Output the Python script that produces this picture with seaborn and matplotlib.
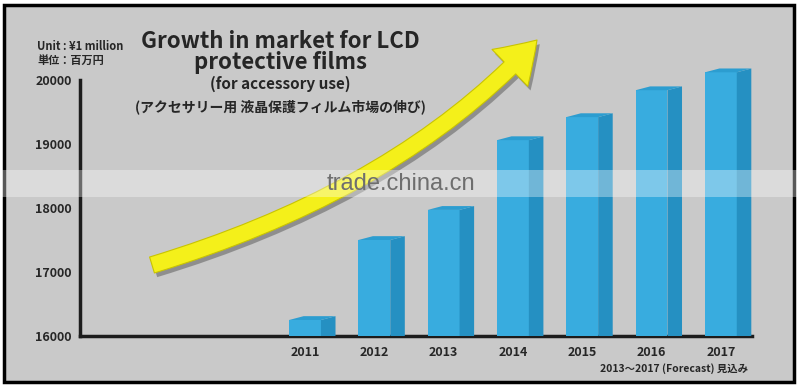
# Growth in market for LCD protective films (accessory use)
import matplotlib
matplotlib.use("Agg")

import pandas as pd
import matplotlib.pyplot as plt
import matplotlib.patheffects as pe
from matplotlib.patches import FancyArrowPatch, Rectangle, Polygon
from matplotlib.path import Path
import seaborn as sns

# Data (unit: 1 million yen)
years = ['2011', '2012', '2013', '2014', '2015', '2016', '2017']
market = [16250, 17500, 17970, 19060, 19420, 19840, 20120]
y_ticks = [16000, 17000, 18000, 19000, 20000]

sns.set_style("white")
plt.rcParams['font.family'] = ['Noto Sans CJK JP', 'DejaVu Sans']

# Colours
bg_color = '#c9c9c9'
front_color = '#38acdf'
side_color = '#2590c2'
top_color = '#2c9dd0'
axis_color = '#1c1c1c'

W, H = 800, 386

def fx(x):
    return x / W

def fy(y):
    return 1 - y / H

fig = plt.figure(figsize=(8, 3.86), dpi=100)
fig.patch.set_facecolor('white')

# gray panel with black frame
fig.patches.append(Rectangle((fx(4), fy(382)), 790 / W, 377 / H, transform=fig.transFigure,
                             facecolor=bg_color, edgecolor='black', linewidth=2.5, zorder=-1))

ax = fig.add_axes([fx(80), fy(336), 680 / W, 275.2 / H])
ax.patch.set_alpha(0)

df = pd.DataFrame({'year': years, 'value': market})
sns.barplot(data=df, x='year', y='value', color=front_color, width=0.46,
            saturation=1, edgecolor='none', linewidth=0, ax=ax, zorder=3)

# 3D side and top faces
half = 0.23
depth = 0.21
rise = 60
for i, v in enumerate(market):
    xr = i + half
    ax.add_patch(Polygon([(xr, 15900), (xr + depth, 15900), (xr + depth, v + rise), (xr, v)],
                         closed=True, facecolor=side_color, edgecolor='none', zorder=3))
    ax.add_patch(Polygon([(i - half, v), (xr, v), (xr + depth, v + rise), (i - half + depth, v + rise)],
                         closed=True, facecolor=top_color, edgecolor='none', zorder=3))

x_left = -3.247
ax.set_xlim(x_left, x_left + 680 / 69.3)
ax.set_ylim(16000, 20300)
ax.set_yticks(y_ticks)
ax.set_xlabel('')
ax.set_ylabel('')

for s in ['top', 'right']:
    ax.spines[s].set_visible(False)
for s in ['left', 'bottom']:
    ax.spines[s].set_color(axis_color)
    ax.spines[s].set_linewidth(2.5)
ax.spines['left'].set_bounds(16000, 20000)
ax.spines['bottom'].set_bounds(x_left, 6.45)

ax.tick_params(axis='y', direction='in', length=7, width=2.5, color=axis_color,
               labelsize=9, pad=6)
ax.tick_params(axis='x', length=0, labelsize=9, pad=7)
for lab in ax.get_yticklabels() + ax.get_xticklabels():
    lab.set_fontweight('bold')

# Yellow growth arrow
verts = [(fx(152), fy(265)), (fx(400), fy(190)), (fx(537), fy(40))]
codes = [Path.MOVETO, Path.CURVE3, Path.CURVE3]
arrow = FancyArrowPatch(path=Path(verts, codes),
                        arrowstyle='simple,head_width=3.7,head_length=2.8,tail_width=1.2',
                        mutation_scale=10, transform=fig.transFigure,
                        facecolor='#f4f01a', edgecolor='#c9c400', linewidth=0.8, zorder=2,
                        path_effects=[pe.SimplePatchShadow(offset=(2, -3), shadow_rgbFace='#555555', alpha=0.5),
                                      pe.Normal()])
fig.add_artist(arrow)

# Texts
fig.text(fx(37), fy(46), 'Unit : ¥1 million', fontsize=8, fontweight='bold', va='center')
fig.text(fx(37), fy(60), '単位：百万円', fontsize=8, fontweight='bold', va='center')

fig.text(fx(280), fy(41), 'Growth in market for LCD', fontsize=16, fontweight='bold',
         ha='center', va='center')
fig.text(fx(280), fy(63), 'protective films', fontsize=16, fontweight='bold',
         ha='center', va='center')
fig.text(fx(280), fy(84), '(for accessory use)', fontsize=11, fontweight='bold',
         ha='center', va='center')
fig.text(fx(280), fy(107), '(アクセサリー用 液晶保護フィルム市場の伸び)', fontsize=10, fontweight='bold',
         ha='center', va='center')

fig.text(fx(748), fy(369), '2013～2017 (Forecast) 見込み', fontsize=7.5, fontweight='bold',
         ha='right', va='center')

# watermark band
fig.patches.append(Rectangle((0, fy(197)), 1, 27 / H, transform=fig.transFigure,
                             facecolor='white', edgecolor='none', alpha=0.35, zorder=5))
fig.text(fx(401), fy(184), 'trade.china.cn', fontsize=17, color='#6e6e6e',
         family=['Liberation Sans', 'DejaVu Sans'], ha='center', va='center', zorder=6)

fig.savefig('out.png', dpi=100)
